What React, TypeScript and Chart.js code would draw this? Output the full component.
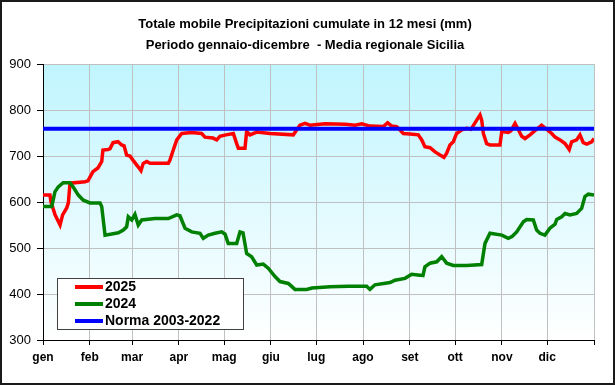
import { useEffect, useRef } from 'react';
import { Chart, registerables } from 'chart.js';

Chart.register(...registerables);

const titleLines = [
  'Totale mobile Precipitazioni cumulate in 12 mesi (mm)',
  'Periodo gennaio-dicembre  - Media regionale Sicilia',
];
const monthLabels = ['gen', 'feb', 'mar', 'apr', 'mag', 'giu', 'lug', 'ago', 'set', 'ott', 'nov', 'dic'];
const monthStartDays = [0, 31, 59, 90, 120, 151, 181, 212, 243, 273, 304, 334, 365];
const yTicks = [300, 400, 500, 600, 700, 800, 900];

const seriesNames = ['2025', '2024', 'Norma 2003-2022'];
const seriesColors = ['#FF0000', '#008000', '#0000FF'];

const normaValue = 759;

const days2025 = [
  0, 4.6, 5.3, 8, 11.3, 13, 15.7, 16.8, 17.9, 27.8, 29.8, 31.1, 33.1, 36.4, 38.9, 39.7, 43.1, 44.4, 46.4, 49.7,
  52.1, 53.7, 55.4, 57.6, 59.6, 62.9, 64.9, 66.4, 68.7, 70.9, 83, 84.1, 86.3, 88.6, 91.9, 98.5, 105.1, 107.3,
  112.6, 115.1, 117.2, 121.2, 126.1, 128.3, 129.4, 133.8, 134.9, 137.1, 141.6, 150.4, 165.8, 170.2, 173.6,
  176.9, 186.8, 200.1, 206.7, 211.1, 216.6, 225.4, 228.3, 231, 234.3, 238.7, 243.1, 248.6, 250.9, 253, 256.4,
  259.7, 263, 265.6, 267.4, 269.6, 271.8, 274, 277.4, 280.7, 283.5, 287.3, 289.5, 290.6, 291.7, 293.9, 296.1,
  302.7, 303.9, 308.2, 310, 312.7, 314.9, 317.1, 319.3, 322.6, 325.9, 330.3, 333.7, 337, 339.2, 342.5, 345.8,
  348.6, 350.2, 353.5, 355.7, 357.9, 360.2, 363.5, 365,
];
const values2025 = [
  615, 615, 600, 572, 550, 572, 587, 598, 641, 644, 646, 654, 666, 674, 688, 713, 714, 716, 729, 731,
  724, 722, 702, 700, 691, 677, 668, 684, 688, 684, 684, 691, 713, 735, 749, 751, 749, 741,
  739, 735, 743, 746, 749, 727, 717, 717, 753, 746, 752, 749, 746, 767, 771,
  767, 770, 769, 767, 770, 765, 764, 772, 765, 764, 749, 748, 746, 735, 720, 718,
  709, 702, 697, 706, 724, 731, 749, 757, 760, 758, 778, 789, 778, 749, 727, 724,
  724, 753, 751, 755, 771, 757, 743, 738, 746, 755, 767, 758, 749, 741, 735, 727,
  714, 731, 735, 746, 729, 726, 731, 738,
];

const days2024 = [
  0, 5.8, 7.9, 10.1, 13.4, 17.9, 20.1, 23.4, 26.7, 31.1, 37.8, 38.9, 41.1, 49.9, 53.2, 55.4, 56.5, 58.8, 60.9,
  63.1, 65.4, 74.2, 83, 88.6, 90.7, 94.1, 98.5, 104, 106.2, 109.5, 113.9, 118.4, 120.6, 122.7, 128.3, 130.5,
  132.5, 134.9, 138.2, 141.6, 145.9, 149.2, 153.7, 157, 162.5, 166.9, 174.7, 178.2, 190.1, 202.2, 214.4, 216.6,
  219.9, 229.9, 233.2, 239.8, 244.2, 249.7, 251.7, 253, 256.4, 260.8, 264.1, 267.4, 271.8, 280.7, 290.6, 292.8,
  296.1, 303.9, 308.2, 310.7, 313.8, 318.2, 320.4, 324.8, 327, 329.2, 332.5, 335.8, 339.2, 340.3, 343.6, 345.8,
  349.1, 353.5, 356.8, 359, 361.2, 365,
];
const values2024 = [
  590, 590, 622, 633, 642, 642, 632, 615, 604, 598, 598, 590, 528, 533, 539, 546, 568, 561, 573,
  550, 561, 564, 564, 572, 570, 543, 535, 532, 521, 528, 532, 535, 530, 510, 510, 535,
  533, 488, 481, 463, 465, 456, 438, 427, 423, 410, 410, 413, 416, 417, 417, 410,
  420, 425, 430, 434, 443, 441, 440, 459, 467, 470, 481, 467, 462, 462, 464, 510,
  532, 528, 521, 525, 535, 557, 562, 561, 539, 532, 528, 543, 552, 562, 568, 575,
  572, 575, 586, 612, 617, 615,
];

const FONT = "'Liberation Sans', Arial, sans-serif";

const decorPlugin = {
  id: 'decor',
  beforeDraw(chart: any) {
    const { ctx, chartArea, width, height } = chart;
    ctx.save();
    ctx.fillStyle = '#FFFFFF';
    ctx.fillRect(0, 0, width, height);
    const g = ctx.createLinearGradient(0, chartArea.top, 0, chartArea.bottom);
    g.addColorStop(0, '#C0F5FE');
    g.addColorStop(1, '#FFFFFF');
    ctx.fillStyle = g;
    ctx.fillRect(chartArea.left, chartArea.top, chartArea.right - chartArea.left, chartArea.bottom - chartArea.top);
    ctx.restore();
  },
  afterDraw(chart: any) {
    const { ctx, width, height } = chart;
    ctx.save();
    // title
    ctx.fillStyle = '#000';
    ctx.font = `bold 13px ${FONT}`;
    ctx.textAlign = 'center';
    ctx.textBaseline = 'middle';
    ctx.fillText(titleLines[0], 305, 24);
    ctx.fillText(titleLines[1], 305, 45);
    // legend
    const lx = 57.5, ly = 278.5, lw = 186, lh = 51;
    ctx.fillStyle = '#FFFFFF';
    ctx.fillRect(lx, ly, lw, lh);
    ctx.strokeStyle = '#404040';
    ctx.lineWidth = 1;
    ctx.strokeRect(lx, ly, lw, lh);
    ctx.font = `bold 14px ${FONT}`;
    ctx.textAlign = 'left';
    const rows = [287, 304, 321];
    seriesNames.forEach((name, i) => {
      ctx.strokeStyle = seriesColors[i];
      ctx.lineWidth = 4;
      ctx.beginPath();
      ctx.moveTo(75, rows[i]);
      ctx.lineTo(103, rows[i]);
      ctx.stroke();
      ctx.fillStyle = '#000';
      ctx.fillText(name, 105, rows[i] + 0.5);
    });
    // frame
    ctx.strokeStyle = '#1A1A1A';
    ctx.lineWidth = 2;
    ctx.strokeRect(1, 1, width - 2, height - 2);
    ctx.restore();
  },
};

export default function App() {
  const ref = useRef<HTMLCanvasElement>(null);
  useEffect(() => {
    document.body.style.margin = '0';
    const canvas = ref.current!;
    const chart = new Chart(canvas, {
      type: 'line',
      data: {
        datasets: [
          {
            label: seriesNames[0],
            data: days2025.map((d, i) => ({ x: d, y: values2025[i] })),
            borderColor: seriesColors[0],
            borderWidth: 3.5,
            pointRadius: 0,
            tension: 0,
            order: 3,
          },
          {
            label: seriesNames[1],
            data: days2024.map((d, i) => ({ x: d, y: values2024[i] })),
            borderColor: seriesColors[1],
            borderWidth: 3.5,
            pointRadius: 0,
            tension: 0,
            order: 2,
          },
          {
            label: seriesNames[2],
            data: [
              { x: monthStartDays[0], y: normaValue },
              { x: monthStartDays[monthStartDays.length - 1], y: normaValue },
            ],
            borderColor: seriesColors[2],
            borderWidth: 4,
            pointRadius: 0,
            tension: 0,
            order: 1,
          },
        ],
      },
      options: {
        animation: false,
        responsive: false,
        devicePixelRatio: 1,
        layout: { padding: { top: 64, left: 0, right: 21, bottom: 0 } },
        plugins: {
          legend: { display: false },
          title: { display: false },
          tooltip: { enabled: false },
        },
        scales: {
          x: {
            type: 'linear',
            min: 0,
            max: 365,
            afterBuildTicks: (scale: any) => {
              scale.ticks = monthStartDays.map((v) => ({ value: v }));
            },
            afterFit: (scale: any) => {
              scale.height = 45;
            },
            ticks: {
              autoSkip: false,
              maxRotation: 0,
              padding: 5,
              color: '#000',
              font: { family: FONT, size: 12, weight: 'bold' },
              callback: (v: any) => {
                const i = monthStartDays.indexOf(Number(v));
                return i >= 0 && i < monthLabels.length ? monthLabels[i] : '';
              },
            },
            grid: { color: '#C0C0C0', tickColor: '#000', tickLength: 5, lineWidth: 1 },
            border: { color: '#000', width: 1 },
          },
          y: {
            min: yTicks[0],
            max: yTicks[yTicks.length - 1],
            afterBuildTicks: (scale: any) => {
              scale.ticks = yTicks.map((v) => ({ value: v }));
            },
            afterFit: (scale: any) => {
              scale.width = 43;
            },
            ticks: {
              padding: 6,
              color: '#000',
              font: { family: FONT, size: 13 },
            },
            grid: { color: '#C0C0C0', tickColor: '#000', tickLength: 6, lineWidth: 1 },
            border: { color: '#000', width: 1 },
          },
        },
      },
      plugins: [decorPlugin],
    } as any);
    return () => chart.destroy();
  }, []);
  return (
    <div style={{ width: 615, height: 385 }}>
      <canvas ref={ref} width={615} height={385} style={{ display: 'block', width: 615, height: 385 }} />
    </div>
  );
}
